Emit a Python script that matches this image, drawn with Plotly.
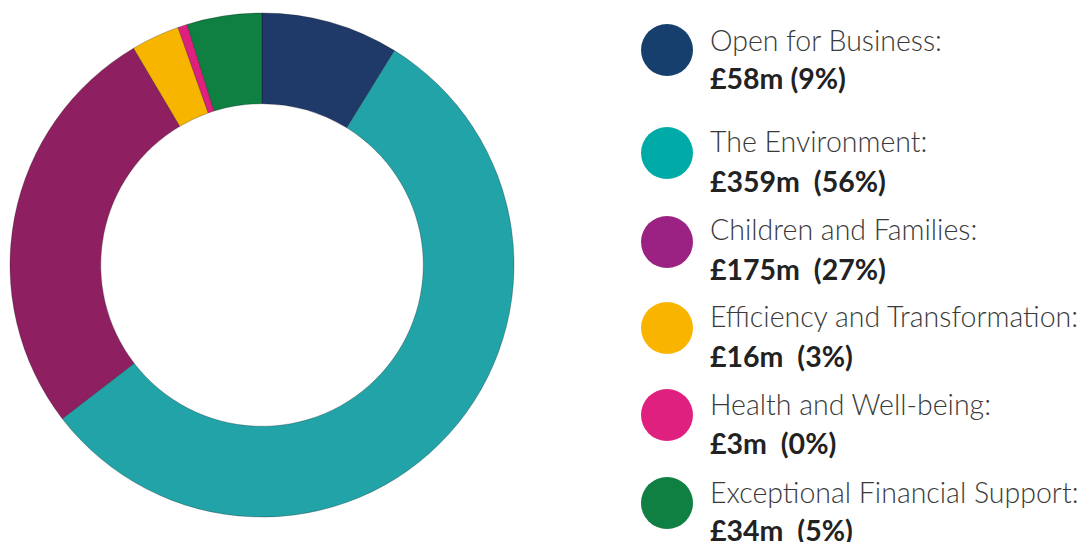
import plotly.graph_objects as go

# Data
categories = ["Open for Business", "The Environment", "Children and Families",
              "Efficiency and Transformation", "Health and Well-being",
              "Exceptional Financial Support"]
amounts = [58, 359, 175, 16, 3, 34]                  # £m, as labelled
slice_share = [8.8, 55.7, 26.9, 3.1, 0.6, 4.8]        # % share as drawn in the ring
percent_labels = ["9%", "56%", "27%", "3%", "0%", "5%"]
slice_colors = ["#1F3A68", "#22A3A8", "#8E1F60", "#F7B500", "#E0207F", "#0F7F42"]
legend_colors = ["#163F6E", "#00AAA6", "#9B2282", "#F9B400", "#E0207F", "#0F7F42"]

W, H = 1089, 542
OFF = 8  # page body margin


def px_x(x):
    return (x - OFF) / W


def px_y(y):
    return (H - (y - OFF)) / H


fig = go.Figure()
fig.add_trace(go.Pie(
    labels=categories,
    values=slice_share,
    hole=0.64,
    sort=False,
    direction="clockwise",
    rotation=0,
    marker=dict(colors=slice_colors, line=dict(color="rgba(0,0,0,0.5)", width=0.5)),
    textinfo="none",
    hoverinfo="label",
    showlegend=False,
    domain=dict(x=[px_x(10), px_x(514)], y=[px_y(517), px_y(13)]),
))

# Custom legend
circle_cy = [50, 153, 242, 328, 415, 503]
name_y = [40, 141, 229, 316, 404, 492]
val_y = [78, 181, 269, 356, 443, 530]
cx, r = 667, 26
shapes = []
annotations = []
for i, cat in enumerate(categories):
    shapes.append(dict(
        type="circle", xref="paper", yref="paper",
        x0=px_x(cx - r), x1=px_x(cx + r),
        y0=px_y(circle_cy[i] + r), y1=px_y(circle_cy[i] - r),
        fillcolor=legend_colors[i], line=dict(width=0),
    ))
    annotations.append(dict(
        x=px_x(708), y=px_y(name_y[i]), xref="paper", yref="paper",
        xanchor="left", yanchor="middle", showarrow=False,
        text=cat + ":",
        font=dict(family="Lato", size=28.5, color="#3a3a3a", weight=300),
    ))
    sep = " " if i == 0 else "\u00a0\u00a0"
    annotations.append(dict(
        x=px_x(708), y=px_y(val_y[i]), xref="paper", yref="paper",
        xanchor="left", yanchor="middle", showarrow=False,
        text=f"<b>£{amounts[i]}m{sep}({percent_labels[i]})</b>",
        font=dict(family="Lato", size=28.5, color="#222222"),
    ))

fig.update_layout(
    width=W, height=H,
    margin=dict(l=0, r=0, t=0, b=0),
    paper_bgcolor="white", plot_bgcolor="white",
    shapes=shapes, annotations=annotations,
)

fig.write_html("out.html")
